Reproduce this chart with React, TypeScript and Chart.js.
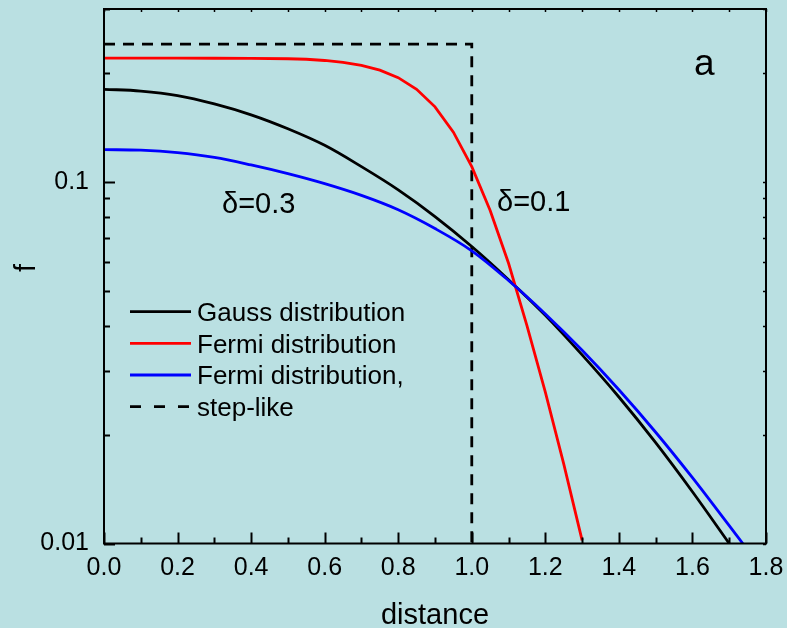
import React, { useEffect, useRef } from 'react';
import { Chart, registerables } from 'chart.js';

Chart.register(...registerables);

// ---- data ----
const gaussX = [0, 0.1, 0.2, 0.3, 0.4, 0.5, 0.6, 0.7, 0.8, 0.9, 1.0, 1.1, 1.2, 1.3, 1.4, 1.5, 1.6, 1.7];
const gaussF = [0.180, 0.178, 0.173, 0.164, 0.153, 0.140, 0.126, 0.110, 0.0949, 0.0801, 0.0662, 0.0536, 0.0427, 0.0332, 0.0254, 0.0190, 0.0139, 0.0100];

const fermiRedX = [0, 0.1, 0.2, 0.3, 0.4, 0.5, 0.55, 0.6, 0.65, 0.7, 0.75, 0.8, 0.85, 0.9, 0.95, 1.0, 1.05, 1.1, 1.15, 1.2, 1.25, 1.3];
const fermiRedF = [0.2194, 0.2194, 0.2194, 0.2193, 0.2192, 0.2186, 0.2179, 0.2162, 0.2136, 0.2097, 0.2033, 0.1938, 0.1800, 0.1610, 0.1370, 0.1100, 0.0832, 0.0595, 0.0400, 0.0262, 0.0166, 0.0102];

const fermiBlueX = [0, 0.1, 0.2, 0.3, 0.4, 0.5, 0.6, 0.7, 0.8, 0.9, 1.0, 1.1, 1.2, 1.3, 1.4, 1.5, 1.6, 1.7, 1.737];
const fermiBlueF = [0.1226, 0.1222, 0.1203, 0.1167, 0.1112, 0.1052, 0.0987, 0.0916, 0.0836, 0.0742, 0.0644, 0.0533, 0.0431, 0.0342, 0.0266, 0.0203, 0.0152, 0.0112, 0.0100];

const stepX = [0, 1, 1];
const stepF = [0.24, 0.24, 0.01];

const xMajorTicks = [0, 0.2, 0.4, 0.6, 0.8, 1.0, 1.2, 1.4, 1.6, 1.8];
const xMinorTicks = [0, 0.1, 0.2, 0.3, 0.4, 0.5, 0.6, 0.7, 0.8, 0.9, 1.0, 1.1, 1.2, 1.3, 1.4, 1.5, 1.6, 1.7, 1.8];
const yTicks = [0.01, 0.02, 0.03, 0.04, 0.05, 0.06, 0.07, 0.08, 0.09, 0.1, 0.2, 0.3];
const yLabelTicks = [0.01, 0.1];

const xTitle = 'distance';
const yTitle = 'f';
const legendLabels = ['Gauss distribution', 'Fermi distribution', 'Fermi distribution,', 'step-like'];
const legendColors = ['#000000', '#ff0000', '#0000ff', '#000000'];
const legendDashed = [false, false, false, true];
const noteDelta03 = 'δ=0.3';
const noteDelta01 = 'δ=0.1';
const notePanel = 'a';

const BG = '#bae0e2';
const FONT = '"Liberation Sans", Arial, Helvetica, sans-serif';

const toPts = (xs: number[], ys: number[]) => xs.map((x, i) => ({ x, y: ys[i] }));

const decorPlugin = {
  id: 'decor',
  beforeDraw(chart: any) {
    const ctx = chart.ctx;
    ctx.save();
    ctx.fillStyle = BG;
    ctx.fillRect(0, 0, chart.width, chart.height);
    ctx.restore();
  },
  afterDraw(chart: any) {
    const ctx = chart.ctx;
    const { left, right, top, bottom } = chart.chartArea;
    const xs = chart.scales.x;
    const ys = chart.scales.y;
    ctx.save();
    ctx.strokeStyle = '#000';
    ctx.lineWidth = 2;
    ctx.setLineDash([]);
    ctx.strokeRect(left, top, right - left, bottom - top);

    // x ticks (bottom inward, top short)
    xMinorTicks.forEach((v) => {
      const px = Math.round(xs.getPixelForValue(v)) + 0.5;
      const isMajor = xMajorTicks.some((m) => Math.abs(m - v) < 1e-9);
      ctx.lineWidth = 2;
      ctx.beginPath();
      ctx.moveTo(px, bottom);
      ctx.lineTo(px, bottom - (isMajor ? 11 : 6));
      ctx.stroke();
      ctx.lineWidth = 1.5;
      ctx.beginPath();
      ctx.moveTo(px, top);
      ctx.lineTo(px, top + 3);
      ctx.stroke();
    });
    // y ticks (left inward, right short)
    yTicks.forEach((v) => {
      const py = Math.round(ys.getPixelForValue(v)) + 0.5;
      const isMajor = yLabelTicks.some((m) => Math.abs(m - v) < 1e-9);
      ctx.lineWidth = 2;
      ctx.beginPath();
      ctx.moveTo(left, py);
      ctx.lineTo(left + (isMajor ? 11 : 6), py);
      ctx.stroke();
      ctx.lineWidth = 1.5;
      ctx.beginPath();
      ctx.moveTo(right, py);
      ctx.lineTo(right - 3, py);
      ctx.stroke();
    });

    // texts
    ctx.fillStyle = '#000';
    ctx.textBaseline = 'alphabetic';
    ctx.textAlign = 'left';
    ctx.font = `29px ${FONT}`;
    ctx.fillText(noteDelta03, 222, 213);
    ctx.fillText(noteDelta01, 497, 211);
    ctx.font = `37px ${FONT}`;
    ctx.fillText(notePanel, 694, 75);

    // axis titles
    ctx.font = `29px ${FONT}`;
    ctx.textAlign = 'center';
    ctx.fillText(xTitle, (left + right) / 2, 624);
    ctx.save();
    ctx.translate(35, 268);
    ctx.rotate(-Math.PI / 2);
    ctx.fillText(yTitle, 0, 0);
    ctx.restore();

    // legend
    ctx.textAlign = 'left';
    ctx.font = `26px ${FONT}`;
    const rowY = [311.7, 343.3, 375, 406.7];
    legendLabels.forEach((lab, i) => {
      const y = rowY[i];
      ctx.strokeStyle = legendColors[i];
      ctx.lineWidth = 2.8;
      ctx.setLineDash(legendDashed[i] ? [11, 13] : []);
      ctx.beginPath();
      ctx.moveTo(130, y);
      ctx.lineTo(191, y);
      ctx.stroke();
      ctx.setLineDash([]);
      ctx.fillStyle = '#000';
      ctx.fillText(lab, 197, y + 9.2);
    });
    ctx.restore();
  },
};

export default function App() {
  const ref = useRef<HTMLCanvasElement | null>(null);
  useEffect(() => {
    document.body.style.margin = '0';
    document.body.style.background = BG;
    if (!ref.current) return;
    const chart = new Chart(ref.current, {
      type: 'line',
      data: {
        datasets: [
          {
            label: legendLabels[2],
            data: toPts(fermiBlueX, fermiBlueF),
            borderColor: '#0000ff',
            borderWidth: 2.8,
            pointRadius: 0,
            tension: 0.35,
            fill: false,
            order: 0,
          },
          {
            label: legendLabels[1],
            data: toPts(fermiRedX, fermiRedF),
            borderColor: '#ff0000',
            borderWidth: 2.8,
            pointRadius: 0,
            tension: 0,
            fill: false,
            order: 1,
          },
          {
            label: legendLabels[0],
            data: toPts(gaussX, gaussF),
            borderColor: '#000000',
            borderWidth: 2.8,
            pointRadius: 0,
            tension: 0.35,
            fill: false,
            order: 2,
          },
          {
            label: legendLabels[3],
            data: toPts(stepX, stepF),
            borderColor: '#000000',
            borderWidth: 2.8,
            borderDash: [11, 8],
            pointRadius: 0,
            tension: 0,
            fill: false,
            order: 3,
          },
        ],
      },
      options: {
        animation: false,
        responsive: true,
        maintainAspectRatio: false,
        layout: { padding: { left: 0, right: 21, top: 9, bottom: 0 } },
        plugins: { legend: { display: false }, tooltip: { enabled: false } },
        scales: {
          x: {
            type: 'linear',
            min: 0,
            max: 1.8,
            grid: { display: false, drawTicks: false },
            border: { display: false },
            afterBuildTicks: (s: any) => {
              s.ticks = xMajorTicks.map((v) => ({ value: v }));
            },
            afterFit: (s: any) => {
              s.height = 84.5;
              s.paddingLeft = 0;
              s.paddingRight = 0;
            },
            ticks: {
              autoSkip: false,
              maxRotation: 0,
              padding: 10,
              color: '#000',
              font: { family: FONT, size: 25 },
              callback: (v: any) => Number(v).toFixed(1),
            },
          },
          y: {
            type: 'logarithmic',
            min: 0.01,
            max: 0.3,
            grid: { display: false, drawTicks: false },
            border: { display: false },
            afterBuildTicks: (s: any) => {
              s.ticks = yTicks.map((v) => ({ value: v }));
            },
            afterFit: (s: any) => {
              s.width = 104;
              s.paddingTop = 0;
              s.paddingBottom = 0;
            },
            ticks: {
              autoSkip: false,
              padding: 15,
              color: '#000',
              font: { family: FONT, size: 25 },
              callback: (v: any) => {
                const n = Number(v);
                if (Math.abs(n - 0.01) < 1e-9) return '0.01';
                if (Math.abs(n - 0.1) < 1e-9) return '0.1';
                return '';
              },
            },
          },
        },
      },
      plugins: [decorPlugin],
    } as any);
    return () => chart.destroy();
  }, []);
  return (
    <div style={{ position: 'absolute', left: 0, top: 0, width: 787, height: 628, background: BG }}>
      <canvas ref={ref} />
    </div>
  );
}
